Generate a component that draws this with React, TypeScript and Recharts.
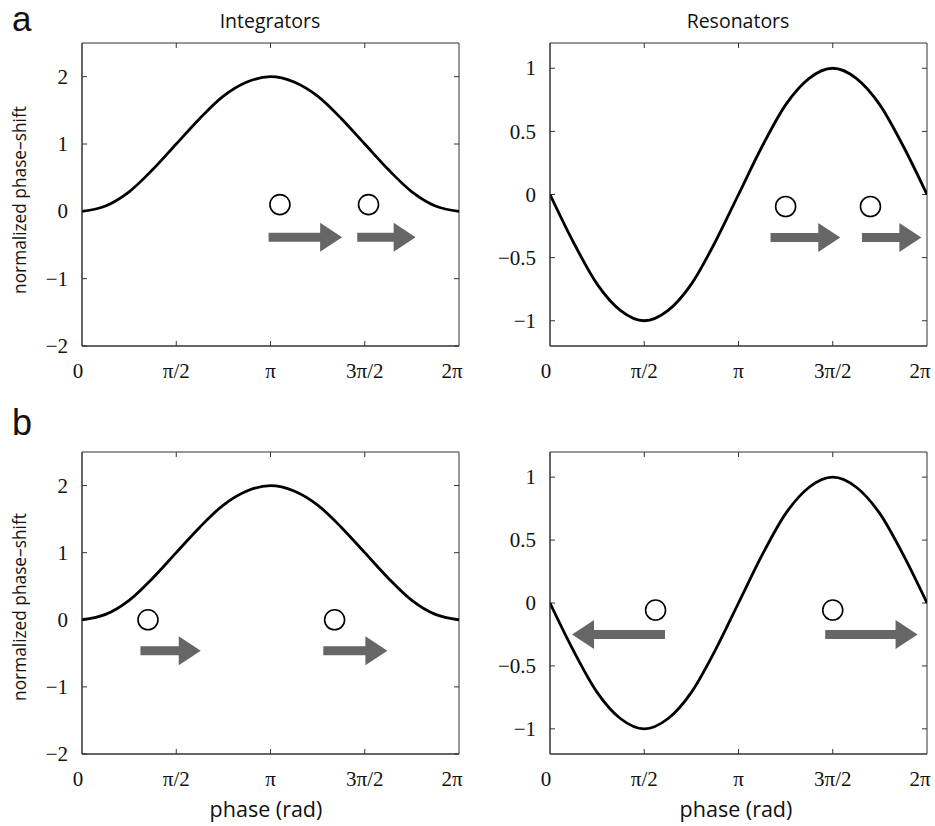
import React from 'react';
import { LineChart, Line, XAxis, YAxis, ReferenceDot, ReferenceLine, ReferenceArea } from 'recharts';

// phase in units of pi (0 .. 2pi, every pi/8)
const phase = [0, 0.125, 0.25, 0.375, 0.5, 0.625, 0.75, 0.875, 1, 1.125, 1.25, 1.375, 1.5, 1.625, 1.75, 1.875, 2];
const integratorShift = [0, 0.08, 0.29, 0.62, 1.0, 1.38, 1.71, 1.92, 2.0, 1.92, 1.71, 1.38, 1.0, 0.62, 0.29, 0.08, 0];
const resonatorShift = [0, -0.38, -0.71, -0.92, -1.0, -0.92, -0.71, -0.38, 0, 0.38, 0.71, 0.92, 1.0, 0.92, 0.71, 0.38, 0];

const phaseTicks = [0, 0.5, 1, 1.5, 2];
const phaseTickLabels = ['0', 'π/2', 'π', '3π/2', '2π'];
const intTicks = [-2, -1, 0, 1, 2];
const intTickLabels = ['−2', '−1', '0', '1', '2'];
const resTicks = [-1, -0.5, 0, 0.5, 1];
const resTickLabels = ['−1', '−0.5', '0', '0.5', '1'];

// stimulus markers (circles) and resulting shift arrows, per panel
const aIntCircles = [{ x: 1.05, y: 0.1 }, { x: 1.52, y: 0.1 }];
const aIntArrows = [{ from: 0.99, to: 1.38, y: -0.385 }, { from: 1.46, to: 1.77, y: -0.385 }];
const aResCircles = [{ x: 1.25, y: -0.095 }, { x: 1.7, y: -0.095 }];
const aResArrows = [{ from: 1.17, to: 1.54, y: -0.34 }, { from: 1.655, to: 1.97, y: -0.34 }];
const bIntCircles = [{ x: 0.35, y: 0.0 }, { x: 1.34, y: 0.0 }];
const bIntArrows = [{ from: 0.31, to: 0.63, y: -0.46 }, { from: 1.28, to: 1.62, y: -0.46 }];
const bResCircles = [{ x: 0.56, y: -0.056 }, { x: 1.5, y: -0.056 }];
const bResArrows = [{ from: 0.61, to: 0.117, y: -0.25 }, { from: 1.46, to: 1.95, y: -0.25 }];

const intData = phase.map((p, i) => ({ phase: p, shift: integratorShift[i] }));
const resData = phase.map((p, i) => ({ phase: p, shift: resonatorShift[i] }));

const AXIS = '#333';
const SERIF = '"Liberation Serif", "Times New Roman", serif';

const Arrow = (props: any) => {
  const { x1, y1, x2 } = props;
  if (x1 == null || x2 == null) return null;
  const d = x2 > x1 ? 1 : -1;
  const y = y1;
  const hx = x2 - d * 22;
  const pts = [
    [x1, y - 4.5], [hx, y - 4.5], [hx, y - 14.5], [x2, y],
    [hx, y + 14.5], [hx, y + 4.5], [x1, y + 4.5],
  ].map((p) => p.join(',')).join(' ');
  return <polygon points={pts} fill="#666" stroke="none" />;
};

// inward tick marks on both ends of a grid position (matlab-style box ticks)
const TickPair = (props: any) => {
  const { x1, y1, x2, y2 } = props;
  if (x1 == null) return null;
  const L = 5;
  if (Math.abs(x1 - x2) < 0.5) {
    const a = Math.min(y1, y2), b = Math.max(y1, y2);
    return (
      <g stroke={AXIS} strokeWidth={1}>
        <line x1={x1} x2={x1} y1={a} y2={a + L} />
        <line x1={x1} x2={x1} y1={b - L} y2={b} />
      </g>
    );
  }
  const a = Math.min(x1, x2), b = Math.max(x1, x2);
  return (
    <g stroke={AXIS} strokeWidth={1}>
      <line y1={y1} y2={y1} x1={a} x2={a + L} />
      <line y1={y1} y2={y1} x1={b - L} x2={b} />
    </g>
  );
};

const XTick = (props: any) => {
  const { x, y, payload } = props;
  const i = phaseTicks.indexOf(payload.value);
  const shift = i === 0 ? -4 : i === phaseTicks.length - 1 ? -7 : 0;
  return (
    <text x={x + shift} y={y} dy="0.71em" textAnchor="middle" fontFamily={SERIF} fontSize={21} fill="#111">
      {phaseTickLabels[i]}
    </text>
  );
};

const makeYTick = (ticks: number[], labels: string[]) => (props: any) => {
  const { x, y, payload } = props;
  return (
    <text x={x} y={y} dy="0.34em" textAnchor="end" fontFamily={SERIF} fontSize={21} fill="#111">
      {labels[ticks.indexOf(payload.value)]}
    </text>
  );
};

type PanelProps = {
  left: number;
  top: number;
  height: number;
  margin: { top: number; right: number; bottom: number; left: number };
  data: { phase: number; shift: number }[];
  yDomain: [number, number];
  yTicks: number[];
  yLabels: string[];
  circles: { x: number; y: number }[];
  arrows: { from: number; to: number; y: number }[];
};

const Panel = ({ left, top, height, margin, data, yDomain, yTicks, yLabels, circles, arrows }: PanelProps) => (
  <div style={{ position: 'absolute', left, top }}>
    <LineChart width={470} height={height} data={data} margin={margin} style={{ overflow: 'visible' }}>
      <XAxis
        dataKey="phase"
        type="number"
        domain={[0, 2]}
        ticks={phaseTicks}
        interval={0}
        allowDataOverflow
        height={30}
        tickLine={false}
        tickSize={0}
        tickMargin={17}
        stroke={AXIS}
        tick={<XTick />}
      />
      <YAxis
        type="number"
        domain={yDomain}
        ticks={yTicks}
        interval={0}
        allowDataOverflow
        width={40}
        tickLine={false}
        tickSize={0}
        tickMargin={14}
        stroke={AXIS}
        tick={makeYTick(yTicks, yLabels)}
      />
      <ReferenceArea
        x1={0}
        x2={2}
        y1={yDomain[0]}
        y2={yDomain[1]}
        fill="none"
        fillOpacity={0}
        stroke={AXIS}
        strokeWidth={1}
        ifOverflow="visible"
      />
      {phaseTicks.slice(1, -1).map((t) => (
        <ReferenceLine key={'tx' + t} x={t} shape={TickPair} />
      ))}
      {yTicks.map((t) => (
        <ReferenceLine key={'ty' + t} y={t} shape={TickPair} />
      ))}
      <Line
        type="monotone"
        dataKey="shift"
        stroke="#000"
        strokeWidth={2.8}
        dot={false}
        isAnimationActive={false}
      />
      {arrows.map((a, i) => (
        <ReferenceLine
          key={'a' + i}
          segment={[{ x: a.from, y: a.y }, { x: a.to, y: a.y }]}
          shape={Arrow}
          ifOverflow="visible"
        />
      ))}
      {circles.map((c, i) => (
        <ReferenceDot
          key={'c' + i}
          x={c.x}
          y={c.y}
          r={10}
          fill="#fff"
          stroke="#000"
          strokeWidth={1.6}
          ifOverflow="visible"
        />
      ))}
    </LineChart>
  </div>
);

const sans = '"Open Sans", "Noto Sans", sans-serif';

export default function App() {
  return (
    <div style={{ position: 'absolute', left: 0, top: 0, width: 935, height: 826, background: '#fff' }}>
      <Panel left={0} top={0} height={400} margin={{ top: 43, right: 11, bottom: 24, left: 42 }}
        data={intData} yDomain={[-2, 2.5]} yTicks={intTicks} yLabels={intTickLabels}
        circles={aIntCircles} arrows={aIntArrows} />
      <Panel left={465} top={0} height={400} margin={{ top: 43, right: 8, bottom: 24, left: 45 }}
        data={resData} yDomain={[-1.2, 1.2]} yTicks={resTicks} yLabels={resTickLabels}
        circles={aResCircles} arrows={aResArrows} />
      <Panel left={0} top={400} height={426} margin={{ top: 52, right: 11, bottom: 42, left: 42 }}
        data={intData} yDomain={[-2, 2.5]} yTicks={intTicks} yLabels={intTickLabels}
        circles={bIntCircles} arrows={bIntArrows} />
      <Panel left={465} top={400} height={426} margin={{ top: 52, right: 8, bottom: 42, left: 45 }}
        data={resData} yDomain={[-1.2, 1.2]} yTicks={resTicks} yLabels={resTickLabels}
        circles={bResCircles} arrows={bResArrows} />
      <svg width={935} height={826} style={{ position: 'absolute', left: 0, top: 0, pointerEvents: 'none' }}>
        <text x={12} y={31} fontFamily='"Liberation Sans", Arial, sans-serif' fontSize={35} fill="#111">a</text>
        <text x={12} y={435} fontFamily='"Liberation Sans", Arial, sans-serif' fontSize={36} fill="#111">b</text>
        <text x={270} y={28} textAnchor="middle" fontFamily={sans} fontSize={19.5} fill="#111">Integrators</text>
        <text x={738} y={28} textAnchor="middle" fontFamily={sans} fontSize={19.5} fill="#111">Resonators</text>
        <text x={26} y={200} transform="rotate(-90 26 200)" textAnchor="middle" fontFamily={sans} fontSize={17.3} fill="#111">normalized phase–shift</text>
        <text x={26} y={607} transform="rotate(-90 26 607)" textAnchor="middle" fontFamily={sans} fontSize={17.3} fill="#111">normalized phase–shift</text>
        <text x={266} y={817} textAnchor="middle" fontFamily={sans} fontSize={21.5} fill="#111">phase (rad)</text>
        <text x={736} y={817} textAnchor="middle" fontFamily={sans} fontSize={21.5} fill="#111">phase (rad)</text>
      </svg>
    </div>
  );
}
